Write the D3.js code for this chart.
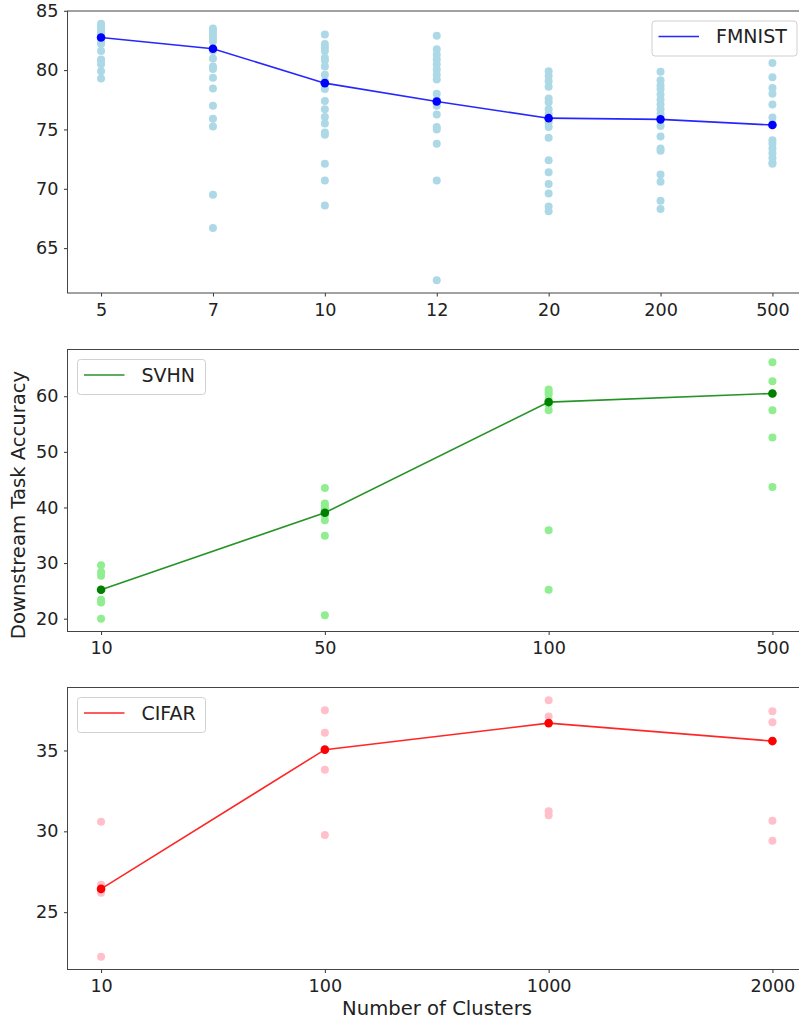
<!DOCTYPE html>
<html>
<head>
<meta charset="utf-8">
<script src="https://cdn.jsdelivr.net/npm/d3@7"></script>
<style>
  body { margin: 0; background: #fff; }
  text { font-family: "DejaVu Sans", sans-serif; fill: #222; }
</style>
</head>
<body>
<div id="chart"></div>
<script>
// clusters on each x axis
const fmnistClusters = ["5", "7", "10", "12", "20", "200", "500"];
const svhnClusters = ["10", "50", "100", "500"];
const cifarClusters = ["10", "100", "1000", "2000"];

// mean accuracy per cluster count (the line)
const fmnistMeans = [82.75, 81.8, 78.9, 77.35, 75.95, 75.85, 75.37];
const svhnMeans = [25.2, 39.05, 58.95, 60.5];
const cifarMeans = [26.44, 35.05, 36.69, 35.58];

// single runs per cluster count (the faint dots)
const fmnistRuns = [
  [83.9, 83.7, 83.4, 83.2, 82.9, 82.7, 82.4, 82.2, 81.6, 80.9, 80.8, 80.5, 79.9, 79.3],
  [83.5, 83.25, 82.97, 82.7, 82.4, 81.8, 81.6, 80.97, 80.3, 80.1, 79.35, 78.45, 77.0, 75.9, 75.25, 69.5, 66.7],
  [83.0, 82.2, 81.9, 81.6, 81.05, 80.8, 80.3, 79.6, 79.07, 78.4, 77.4, 76.7, 76.05, 75.5, 74.75, 74.55, 72.1, 70.7, 68.6],
  [82.9, 81.75, 81.3, 80.9, 80.5, 80.06, 79.6, 79.2, 78.0, 77.5, 77.0, 76.25, 75.2, 75.0, 73.8, 70.7, 62.3],
  [79.9, 79.5, 79.07, 78.6, 77.6, 77.3, 76.7, 76.3, 75.6, 75.2, 74.3, 72.4, 71.4, 70.4, 69.6, 68.5, 68.1],
  [79.86, 79.15, 78.7, 78.4, 77.94, 77.5, 77.1, 76.7, 76.3, 75.3, 74.4, 73.4, 73.2, 71.2, 70.6, 69.0, 68.3],
  [80.6, 79.4, 78.5, 78.0, 77.1, 76.0, 75.5, 74.1, 73.8, 73.4, 73.0, 72.6, 72.2, 72.1]
];
const svhnRuns = [
  [29.6, 28.4, 27.7, 25.2, 23.4, 22.9, 20.0],
  [43.5, 40.7, 40.25, 39.8, 39.35, 38.6, 37.7, 34.9, 20.6],
  [61.2, 60.75, 60.3, 59.4, 58.5, 57.5, 35.9, 25.2],
  [66.1, 62.7, 60.5, 57.5, 52.6, 43.7]
];
const cifarRuns = [
  [30.6, 26.7, 26.45, 26.2, 22.25],
  [37.48, 36.1, 35.05, 33.8, 29.77],
  [38.1, 37.1, 36.69, 31.24, 31.0],
  [37.42, 36.74, 35.58, 30.66, 29.42]
];

// tick values on each y axis
const fmnistTicks = [65, 70, 75, 80, 85];
const svhnTicks = [20, 30, 40, 50, 60];
const cifarTicks = [25, 30, 35];

const W = 799, H = 1020;
const left = 67.5, right = 806;

const svg = d3.select('#chart')
  .append('svg')
    .attr('width', W)
    .attr('height', H);

const panels = [
  {name: 'FMNIST', cats: fmnistClusters, means: fmnistMeans, runs: fmnistRuns, ticks: fmnistTicks,
   line: '#0000ff', dot: '#add8e6', top: 11, legend: 'right'},
  {name: 'SVHN', cats: svhnClusters, means: svhnMeans, runs: svhnRuns, ticks: svhnTicks,
   line: '#008000', dot: '#90ee90', top: 349.5, legend: 'left'},
  {name: 'CIFAR', cats: cifarClusters, means: cifarMeans, runs: cifarRuns, ticks: cifarTicks,
   line: '#ff0000', dot: '#ffc0cb', top: 687.5, legend: 'left'}
];
const panelH = 282;

panels.forEach(p => {
  const bottom = p.top + panelH;

  // x: evenly spaced categories, matplotlib-like 5% margins
  const x = d3.scalePoint()
    .domain(p.cats)
    .range([left, right])
    .padding(0.05 * (p.cats.length - 1));

  // y: data extent plus 5% margins
  const all = p.runs.flat().concat(p.means);
  const lo = d3.min(all), hi = d3.max(all), pad = (hi - lo) * 0.05;
  const y = d3.scaleLinear()
    .domain([lo - pad, hi + pad])
    .range([bottom, p.top]);

  const g = svg.append('g');

  // scatter of single runs
  p.cats.forEach((c, i) => {
    g.selectAll(null)
      .data(p.runs[i])
      .enter()
      .append('circle')
      .attr('cx', x(c))
      .attr('cy', d => y(d))
      .attr('r', 4)
      .attr('fill', p.dot);
  });

  // mean line
  const line = d3.line()
    .x((d, i) => x(p.cats[i]))
    .y(d => y(d));
  g.append('path')
    .datum(p.means)
    .attr('d', line)
    .attr('fill', 'none')
    .attr('stroke', p.line)
    .attr('stroke-opacity', 0.85)
    .attr('stroke-width', 1.6);

  g.selectAll(null)
    .data(p.means)
    .enter()
    .append('circle')
    .attr('cx', (d, i) => x(p.cats[i]))
    .attr('cy', d => y(d))
    .attr('r', 4.3)
    .attr('fill', p.line);

  // axes
  const xAxis = g.append('g')
    .attr('transform', 'translate(0,' + bottom + ')')
    .call(d3.axisBottom(x).tickSize(3.5).tickPadding(7).tickSizeOuter(0));
  const yAxis = g.append('g')
    .attr('transform', 'translate(' + left + ',0)')
    .call(d3.axisLeft(y).tickValues(p.ticks).tickSize(3.5).tickPadding(5.5).tickSizeOuter(0));
  [xAxis, yAxis].forEach(a => {
    a.select('.domain').remove();
    a.selectAll('line').attr('stroke', '#333');
    a.selectAll('text').style('font-size', '17.6px').attr('fill', '#222');
  });

  // frame
  g.append('rect')
    .attr('x', left)
    .attr('y', p.top)
    .attr('width', right - left)
    .attr('height', panelH)
    .attr('fill', 'none')
    .attr('stroke', '#444')
    .attr('stroke-width', 1);

  // legend
  const lw = p.legend === 'right' ? 145 : 128;
  const lx = p.legend === 'right' ? 652 : 77.5;
  const ly = p.top + 10;
  const lg = g.append('g').attr('transform', 'translate(' + lx + ',' + ly + ')');
  lg.append('rect')
    .attr('width', lw)
    .attr('height', 35)
    .attr('rx', 3)
    .attr('fill', 'white')
    .attr('fill-opacity', 0.8)
    .attr('stroke', '#d0d0d0');
  lg.append('line')
    .attr('x1', 6.5).attr('x2', 47)
    .attr('y1', 15.5).attr('y2', 15.5)
    .attr('stroke', p.line)
    .attr('stroke-opacity', 0.85)
    .attr('stroke-width', 1.6);
  lg.append('text')
    .attr('x', 64)
    .attr('y', 15.5)
    .attr('dy', '0.36em')
    .style('font-size', '19px')
    .text(p.name);
});

// shared axis titles
svg.append('text')
  .attr('transform', 'translate(25,505) rotate(-90)')
  .attr('text-anchor', 'middle')
  .style('font-size', '19.6px')
  .text('Downstream Task Accuracy');

svg.append('text')
  .attr('x', 437)
  .attr('y', 1015)
  .attr('text-anchor', 'middle')
  .style('font-size', '19.6px')
  .text('Number of Clusters');
</script>
</body>
</html>
